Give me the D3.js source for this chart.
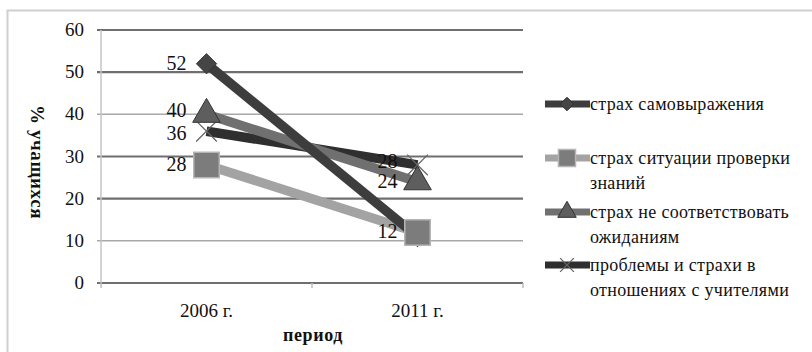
<!DOCTYPE html>
<html>
<head>
  <meta charset="utf-8">
  <style>
    body { margin: 0; background: #fff; }
    svg text { font-family: "Liberation Serif", "DejaVu Serif", serif; fill: #111; }
  </style>
</head>
<body>
<div id="chart"></div>
<script src="https://d3js.org/d3.v7.min.js"></script>
<script>
  // data
  const periods = ["2006 г.", "2011 г."];
  const seriesNames = [
    ["страх самовыражения"],
    ["страх ситуации проверки", "знаний"],
    ["страх не соответствовать", "ожиданиям"],
    ["проблемы и страхи в", "отношениях с учителями"]
  ];
  const selfExpression = [52, 11];
  const knowledgeCheck = [28, 12];
  const expectations = [40, 24];
  const teachers = [36, 28];
  const yTicks = [0, 10, 20, 30, 40, 50, 60];
  // which point gets a printed value (the rest hide behind markers)
  const showLabel = [[true, false], [true, true], [true, true], [true, true]];

  const width = 812, height = 352;
  const margin = {top: 30, right: 289, bottom: 69, left: 101};

  const svg = d3.select('#chart').append('svg')
    .attr('width', width)
    .attr('height', height);

  // outer frame
  svg.append('rect')
    .attr('x', 7.5).attr('y', 10.5)
    .attr('width', 820).attr('height', 360)
    .attr('fill', 'none')
    .attr('stroke', '#cfcfcf')
    .attr('stroke-width', 2);

  const x = d3.scaleBand()
    .domain(periods)
    .range([margin.left, width - margin.right]);

  const y = d3.scaleLinear()
    .domain([0, 60])
    .range([height - margin.bottom, margin.top]);

  // gridlines
  svg.append('g')
    .selectAll('line')
    .data(yTicks)
    .enter().append('line')
    .attr('x1', margin.left - 4)
    .attr('x2', width - margin.right)
    .attr('y1', d => y(d)).attr('y2', d => y(d))
    .attr('stroke', d => (d == 40 || d == 10) ? '#a8a8a8' : '#6f6f6f')
    .attr('stroke-width', d => (d == 40 || d == 10) ? 1.5 : 2.2);

  // y axis line
  svg.append('line')
    .attr('x1', margin.left).attr('x2', margin.left)
    .attr('y1', margin.top).attr('y2', y(0))
    .attr('stroke', '#c4c4c4').attr('stroke-width', 1.5);

  // category tick marks
  const bounds = [margin.left, x(periods[1]), width - margin.right];
  svg.append('g')
    .selectAll('line')
    .data(bounds)
    .enter().append('line')
    .attr('x1', d => d).attr('x2', d => d)
    .attr('y1', y(0)).attr('y2', y(0) + 5)
    .attr('stroke', '#bdbdbd').attr('stroke-width', 1.5);

  // y tick labels
  svg.append('g')
    .selectAll('text')
    .data(yTicks)
    .enter().append('text')
    .attr('x', 84)
    .attr('y', d => y(d) + 6)
    .attr('text-anchor', 'end')
    .style('font-size', '19px')
    .text(d => d);

  // x tick labels
  svg.append('g')
    .selectAll('text')
    .data(periods)
    .enter().append('text')
    .attr('x', d => x(d) + x.bandwidth() / 2)
    .attr('y', 317)
    .attr('text-anchor', 'middle')
    .style('font-size', '19px')
    .text(d => d);

  // axis titles
  svg.append('text')
    .attr('x', 313).attr('y', 341)
    .attr('text-anchor', 'middle')
    .style('font-size', '18px')
    .style('font-weight', 'bold')
    .style('letter-spacing', '0.6px')
    .text('период');

  svg.append('text')
    .attr('transform', 'translate(31,162) rotate(90)')
    .attr('text-anchor', 'middle')
    .style('font-size', '19px')
    .style('font-weight', 'bold')
    .style('letter-spacing', '0.6px')
    .text('% учащихся');

  const series = [
    {values: selfExpression, line: '#3d3d3d', fill: '#454545', marker: 'diamond', size: 260},
    {values: knowledgeCheck, line: '#a3a3a3', fill: '#7c7c7c', marker: 'square', size: 650},
    {values: expectations, line: '#707070', fill: '#5e5e5e', marker: 'triangle', size: 330},
    {values: teachers, line: '#2f2f2f', fill: '#2f2f2f', marker: 'cross', size: 280}
  ];

  const symbolType = {
    diamond: d3.symbolDiamond2,
    square: d3.symbolSquare,
    triangle: d3.symbolTriangle,
    cross: d3.symbolTimes
  };

  const cx = d => x(d) + x.bandwidth() / 2;

  const line = d3.line()
    .x((d, i) => cx(periods[i]))
    .y(d => y(d));

  // lines, drawn so the steep one ends up on top
  const order = [3, 2, 1, 0];
  svg.append('g')
    .selectAll('path')
    .data(order)
    .enter().append('path')
    .attr('d', k => line(series[k].values))
    .attr('fill', 'none')
    .attr('stroke', k => series[k].line)
    .attr('stroke-width', 9.5)
    .attr('stroke-linecap', 'butt');

  function drawMarker(g, s, px, py, scale) {
    const sym = d3.symbol().type(symbolType[s.marker]).size(s.size * scale);
    const m = g.append('path')
      .attr('d', sym())
      .attr('transform', `translate(${px},${py})`);
    if (s.marker == 'cross') {
      m.attr('fill', 'none').attr('stroke', '#666').attr('stroke-width', 1.3);
    } else if (s.marker == 'square') {
      m.attr('fill', s.fill).attr('stroke', '#b5b5b5').attr('stroke-width', 1.5);
    } else {
      m.attr('fill', s.fill).attr('stroke', '#333').attr('stroke-width', 1);
    }
  }

  const markers = svg.append('g');
  [0, 3, 2, 1].forEach(k => {
    const s = series[k];
    s.values.forEach((v, i) => drawMarker(markers, s, cx(periods[i]), y(v), 1));
  });

  // data labels
  const labels = svg.append('g');
  series.forEach((s, k) => {
    s.values.forEach((v, i) => {
      if (!showLabel[k][i]) return;
      let dy = 6;
      if (v == 40) dy = 3;
      if (v == 36) dy = 9;
      if (v == 28 && i == 1) dy = 3;
      if (v == 24) dy = 6;
      labels.append('text')
        .attr('x', cx(periods[i]) - 20)
        .attr('y', y(v) + dy)
        .attr('text-anchor', 'end')
        .style('font-size', '20px')
        .text(v);
    });
  });

  // legend
  const legendRows = [104, 158, 212, 265];
  const legend = svg.append('g');
  series.forEach((s, k) => {
    const ly = legendRows[k];
    legend.append('line')
      .attr('x1', 545).attr('x2', 590)
      .attr('y1', ly).attr('y2', ly)
      .attr('stroke', s.line)
      .attr('stroke-width', 7);
    drawMarker(legend, s, 567, ly, 0.45);
    seriesNames[k].forEach((t, j) => {
      legend.append('text')
        .attr('x', 590)
        .attr('y', ly + 6 + j * 25)
        .style('font-size', '18px')
        .style('letter-spacing', '0.3px')
        .text(t);
    });
  });
</script>
</body>
</html>
